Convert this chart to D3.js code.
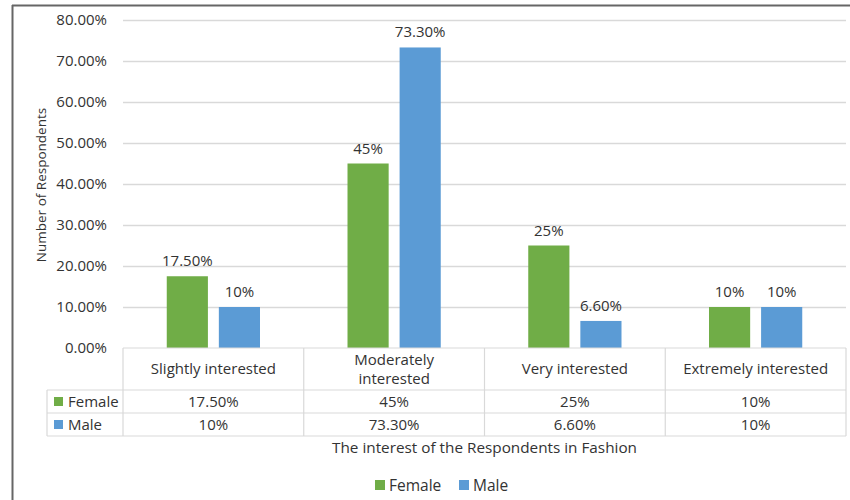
<!DOCTYPE html>
<html>
<head>
<meta charset="utf-8">
<script src="https://cdn.jsdelivr.net/npm/d3@7"></script>
<style>
  body { margin: 0; background: #fff; }
  svg { display: block; font-family: "Open Sans", sans-serif; }
</style>
</head>
<body>
<svg id="chart" width="850" height="500"></svg>
<script>
const categories = ["Slightly interested", "Moderately interested", "Very interested", "Extremely interested"];
const categoryLines = [["Slightly interested"], ["Moderately", "interested"], ["Very interested"], ["Extremely interested"]];
const seriesNames = ["Female", "Male"];
const femaleValues = [17.5, 45, 25, 10];
const maleValues = [10, 73.3, 6.6, 10];
const femaleLabels = ["17.50%", "45%", "25%", "10%"];
const maleLabels = ["10%", "73.30%", "6.60%", "10%"];
const yTicks = [0, 10, 20, 30, 40, 50, 60, 70, 80];
const colors = ["#70AD47", "#5B9BD5"];

const svg = d3.select("#chart");
const textColor = "#333333";
const gridColor = "#D9D9D9";
const fs = "15px";

const plotLeft = 123, plotRight = 846, plotTop = 20, plotBottom = 348;

const x = d3.scaleBand().domain(categories).range([plotLeft, plotRight]);
const sub = d3.scaleBand().domain(seriesNames).range([0, x.bandwidth()]).paddingInner(0.21).paddingOuter(0.84);
const y = d3.scaleLinear().domain([0, 80]).range([plotBottom, plotTop]);

// outer frame
svg.append("line").attr("x1", 12).attr("x2", 850).attr("y1", 5.5).attr("y2", 5.5).attr("stroke", "#666").attr("stroke-width", 2);
svg.append("line").attr("x1", 12.5).attr("x2", 12.5).attr("y1", 5).attr("y2", 500).attr("stroke", "#666").attr("stroke-width", 2);

// gridlines
svg.append("g").selectAll("line").data(yTicks.filter(d => d > 0)).join("line")
  .attr("x1", plotLeft).attr("x2", plotRight)
  .attr("y1", d => Math.round(y(d)) + 0.5).attr("y2", d => Math.round(y(d)) + 0.5)
  .attr("stroke", gridColor).attr("stroke-width", 1.5);

// y axis labels
const yAxis = d3.axisLeft(y).tickValues(yTicks).tickFormat(d => d3.format(".2f")(d) + "%").tickSize(0).tickPadding(16);
const ga = svg.append("g").attr("transform", `translate(${plotLeft},0)`).call(yAxis);
ga.select(".domain").remove();
ga.selectAll("text").attr("fill", textColor).style("font-size", fs).style("font-family", "'Open Sans', sans-serif");

// y title
svg.append("text").attr("transform", `translate(46,185) rotate(-90)`)
  .attr("text-anchor", "middle").attr("fill", textColor).style("font-size", "13.5px")
  .text("Number of Respondents");

// bars
const data = categories.map((c, i) => ({c, vals: [
  {s: "Female", v: femaleValues[i], label: femaleLabels[i]},
  {s: "Male", v: maleValues[i], label: maleLabels[i]}]}));

const groups = svg.append("g").selectAll("g").data(data).join("g")
  .attr("transform", d => `translate(${x(d.c)},0)`);
groups.selectAll("rect").data(d => d.vals).join("rect")
  .attr("x", d => sub(d.s)).attr("width", sub.bandwidth())
  .attr("y", d => y(d.v)).attr("height", d => y(0) - y(d.v))
  .attr("fill", (d, i) => colors[i]);
groups.selectAll("text").data(d => d.vals).join("text")
  .attr("x", d => sub(d.s) + sub.bandwidth() / 2)
  .attr("y", d => y(d.v) - 10)
  .attr("text-anchor", "middle").attr("fill", textColor).style("font-size", fs)
  .text(d => d.label);

// data table
const rowTop = plotBottom, headerBottom = 390, row1Bottom = 413, row2Bottom = 436, legendLeft = 47;
const tbl = svg.append("g").attr("stroke", gridColor).attr("stroke-width", 1.2);
tbl.append("line").attr("x1", plotLeft).attr("x2", plotRight).attr("y1", rowTop).attr("y2", rowTop);
[headerBottom, row1Bottom, row2Bottom].forEach(yy =>
  tbl.append("line").attr("x1", legendLeft).attr("x2", plotRight).attr("y1", yy).attr("y2", yy));
categories.forEach(c => tbl.append("line").attr("x1", x(c)).attr("x2", x(c)).attr("y1", rowTop).attr("y2", row2Bottom));
tbl.append("line").attr("x1", plotRight).attr("x2", plotRight).attr("y1", rowTop).attr("y2", row2Bottom);
tbl.append("line").attr("x1", legendLeft).attr("x2", legendLeft).attr("y1", headerBottom).attr("y2", row2Bottom);

// header category labels
const hdr = svg.append("g").selectAll("text").data(categories).join("text")
  .attr("text-anchor", "middle").attr("fill", textColor).style("font-size", fs)
  .attr("x", d => x(d) + x.bandwidth() / 2);
hdr.each(function(d, i) {
  const lines = categoryLines[i];
  const t = d3.select(this);
  const cy = (rowTop + headerBottom) / 2;
  const lh = 19;
  lines.forEach((ln, k) => {
    t.append("tspan").attr("x", x(d) + x.bandwidth() / 2)
      .attr("y", cy + 5 + (k - (lines.length - 1) / 2) * lh).text(ln);
  });
});

// table rows
const rows = [
  {name: "Female", labels: femaleLabels, color: colors[0], top: headerBottom, bottom: row1Bottom},
  {name: "Male", labels: maleLabels, color: colors[1], top: row1Bottom, bottom: row2Bottom}
];
rows.forEach(r => {
  const cy = (r.top + r.bottom) / 2;
  svg.append("rect").attr("x", 54).attr("y", cy - 4.5).attr("width", 9).attr("height", 9).attr("fill", r.color);
  svg.append("text").attr("x", 68).attr("y", cy + 5).attr("fill", textColor).style("font-size", fs).text(r.name);
  categories.forEach((c, i) => {
    svg.append("text").attr("x", x(c) + x.bandwidth() / 2).attr("y", cy + 5)
      .attr("text-anchor", "middle").attr("fill", textColor).style("font-size", fs).text(r.labels[i]);
  });
});

// x title
svg.append("text").attr("x", (plotLeft + plotRight) / 2).attr("y", 453)
  .attr("text-anchor", "middle").attr("fill", textColor).style("font-size", "15.3px")
  .text("The interest of the Respondents in Fashion");

// legend
const legend = svg.append("g").attr("transform", "translate(375,485)");
const legendX = [0, 84];
seriesNames.forEach((s, i) => {
  const g = legend.append("g").attr("transform", `translate(${legendX[i]},0)`);
  g.append("rect").attr("x", 0).attr("y", -5).attr("width", 10).attr("height", 10).attr("fill", colors[i]);
  g.append("text").attr("x", 14).attr("y", 5.5).attr("fill", textColor).style("font-size", "15.5px").text(s);
});
</script>
</body>
</html>
